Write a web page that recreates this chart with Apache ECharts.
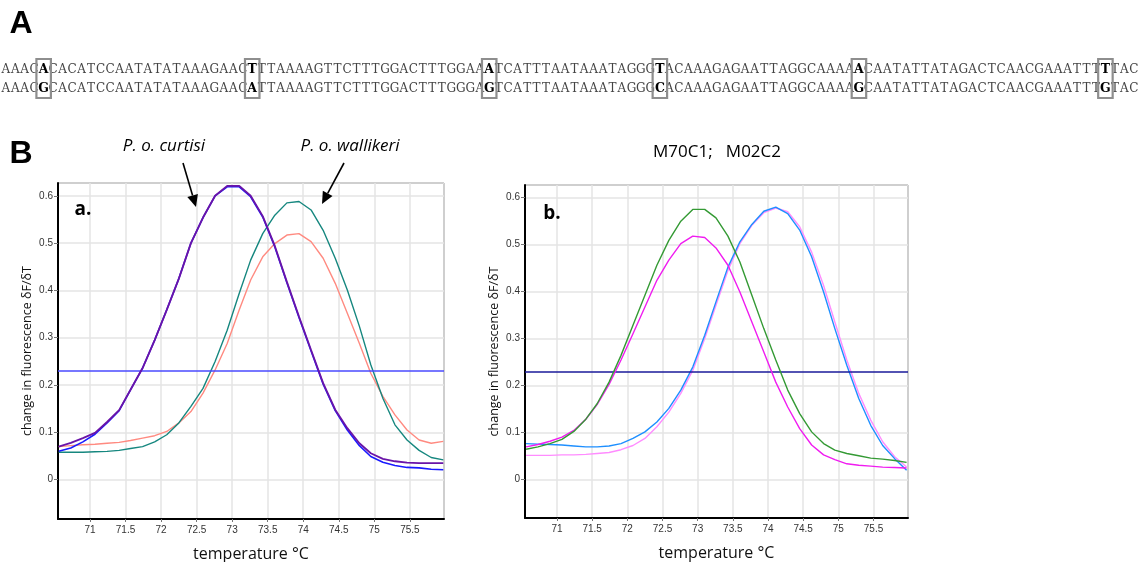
<!DOCTYPE html>
<html>
<head>
<meta charset="utf-8">
<script src="https://cdn.jsdelivr.net/npm/echarts@6/dist/echarts.min.js"></script>
<style>html,body{margin:0;padding:0;background:#fff}#c{width:1144px;height:562px}</style>
</head>
<body>
<div id="c"></div>
<script>
// ---- data ----
const temps = [70.56, 70.73, 70.90, 71.07, 71.24, 71.41, 71.57, 71.74, 71.91, 72.08, 72.25, 72.42, 72.59, 72.76, 72.93, 73.10, 73.26, 73.43, 73.60, 73.77, 73.94, 74.11, 74.28, 74.45, 74.62, 74.79, 74.95, 75.12, 75.29, 75.46, 75.63, 75.80, 75.97];

// panel a
const curtisiPurple = [0.070, 0.078, 0.088, 0.099, 0.122, 0.147, 0.190, 0.236, 0.295, 0.359, 0.425, 0.500, 0.554, 0.600, 0.621, 0.621, 0.600, 0.557, 0.494, 0.418, 0.345, 0.274, 0.204, 0.148, 0.109, 0.077, 0.056, 0.044, 0.039, 0.036, 0.035, 0.035, 0.035];
const curtisiBlue = [0.060, 0.067, 0.080, 0.096, 0.120, 0.146, 0.190, 0.236, 0.295, 0.359, 0.425, 0.500, 0.554, 0.600, 0.619, 0.619, 0.598, 0.555, 0.492, 0.416, 0.343, 0.272, 0.202, 0.146, 0.105, 0.072, 0.049, 0.037, 0.030, 0.026, 0.025, 0.022, 0.021];
const wallikeriTeal = [0.058, 0.058, 0.058, 0.059, 0.060, 0.062, 0.066, 0.070, 0.080, 0.095, 0.120, 0.155, 0.193, 0.250, 0.316, 0.394, 0.464, 0.520, 0.559, 0.585, 0.588, 0.570, 0.527, 0.468, 0.401, 0.324, 0.243, 0.172, 0.116, 0.084, 0.062, 0.047, 0.042];
const wallikeriSalmon = [0.070, 0.072, 0.074, 0.075, 0.077, 0.079, 0.083, 0.088, 0.093, 0.102, 0.120, 0.144, 0.183, 0.232, 0.288, 0.359, 0.422, 0.471, 0.499, 0.517, 0.520, 0.503, 0.468, 0.415, 0.352, 0.288, 0.225, 0.176, 0.137, 0.105, 0.084, 0.077, 0.081];
const thresholdA = 0.2345;

// panel b
const m70Green = [0.064, 0.069, 0.076, 0.085, 0.102, 0.128, 0.161, 0.207, 0.264, 0.328, 0.392, 0.456, 0.509, 0.550, 0.575, 0.575, 0.557, 0.518, 0.463, 0.392, 0.321, 0.254, 0.190, 0.140, 0.101, 0.076, 0.062, 0.055, 0.050, 0.045, 0.043, 0.040, 0.036];
const m70Magenta = [0.069, 0.074, 0.081, 0.090, 0.104, 0.128, 0.159, 0.202, 0.254, 0.310, 0.367, 0.424, 0.467, 0.502, 0.518, 0.515, 0.493, 0.456, 0.399, 0.335, 0.271, 0.207, 0.154, 0.108, 0.073, 0.052, 0.042, 0.033, 0.030, 0.028, 0.026, 0.025, 0.024];
const m02Blue = [0.076, 0.075, 0.074, 0.073, 0.071, 0.069, 0.069, 0.071, 0.076, 0.087, 0.101, 0.122, 0.151, 0.190, 0.239, 0.307, 0.378, 0.452, 0.506, 0.543, 0.571, 0.580, 0.566, 0.531, 0.474, 0.399, 0.321, 0.243, 0.172, 0.115, 0.072, 0.044, 0.019];
const m02Pink = [0.051, 0.051, 0.051, 0.052, 0.052, 0.053, 0.055, 0.057, 0.063, 0.072, 0.087, 0.112, 0.143, 0.183, 0.232, 0.300, 0.371, 0.445, 0.502, 0.541, 0.568, 0.578, 0.570, 0.538, 0.484, 0.413, 0.335, 0.254, 0.183, 0.126, 0.080, 0.048, 0.026];
const thresholdB = 0.2344;

// sequences
const seqTop = 'AAAC' + 'A' + 'CACATCCAATATATAAAGAAC' + 'T' + 'TTAAAAGTTCTTTGGACTTTGGAA' + 'A' + 'TCATTTAATAAATAGGG' + 'T' + 'ACAAAGAGAATTAGGCAAAA' + 'A' + 'CAATATTATAGACTCAACGAAATTT' + 'T' + 'TAC';
const seqBottom = 'AAAC' + 'G' + 'CACATCCAATATATAAAGAAC' + 'A' + 'TTAAAAGTTCTTTGGACTTTGGGA' + 'G' + 'TCATTTAATAAATAGGG' + 'C' + 'ACAAAGAGAATTAGGCAAAA' + 'G' + 'CAATATTATAGACTCAACGAAATTT' + 'G' + 'TAC';
const snpIndex = [4, 26, 51, 69, 90, 116];

// ---- chart ----
const chart = echarts.init(document.getElementById('c'), null, {renderer: 'canvas'});

const tickFont = {fontFamily: 'Liberation Sans', fontSize: 10, color: '#333'};

function xAxis(gi, min, max) {
  return {
    type: 'value', gridIndex: gi, min: min, max: max, splitNumber: 10,
    axisLine: {show: true, onZero: false, lineStyle: {color: '#000', width: 2}},
    axisTick: {show: true, length: 3, lineStyle: {color: '#777'}},
    axisLabel: Object.assign({margin: 6, showMinLabel: false, showMaxLabel: false}, tickFont),
    splitLine: {show: true, lineStyle: {color: '#e4e4e4', width: 1.5}},
    name: 'temperature °C', nameLocation: 'middle', nameGap: 27,
    nameTextStyle: {fontFamily: 'Open Sans', fontSize: 16, color: '#111'}
  };
}
function yAxis(gi, min, max) {
  return {
    type: 'value', gridIndex: gi, min: min, max: max, splitNumber: 7,
    axisLine: {show: true, onZero: false, lineStyle: {color: '#000', width: 2}},
    axisTick: {show: true, length: 4, lineStyle: {color: '#777'}},
    axisLabel: Object.assign({margin: 5, showMinLabel: false, showMaxLabel: false}, tickFont),
    splitLine: {show: true, lineStyle: {color: '#e4e4e4', width: 1.5}},
    name: 'change in fluorescence δF/δT', nameLocation: 'middle', nameGap: 24,
    nameTextStyle: {fontFamily: 'Open Sans', fontSize: 12.5, color: '#111'}
  };
}
function line(values, color, gi, width, z, extra) {
  return Object.assign({
    type: 'line', xAxisIndex: gi, yAxisIndex: gi,
    data: temps.map((t, i) => [t, values[i]]),
    symbol: 'none', showSymbol: false, smooth: false,
    lineStyle: {color: color, width: width}, itemStyle: {color: color},
    z: z, animation: false, silent: true
  }, extra || {});
}
function threshold(v, color) {
  return {markLine: {silent: true, symbol: 'none', animation: false,
    label: {show: false}, lineStyle: {color: color, type: 'solid', width: 1.5},
    data: [{yAxis: v}]}};
}

// ---- annotations ----
const g = [];
const txt = (text, x, y, size, opts) => g.push({
  type: 'text', x: x, y: y, z: 100,
  style: Object.assign({text: text, fontSize: size, fontFamily: 'Open Sans', fill: '#000',
    align: 'center', textAlign: 'center', verticalAlign: 'middle', textVerticalAlign: 'middle'}, opts || {})
});
txt('A', 21, 24, 32, {fontFamily: 'Liberation Sans', fontWeight: 'bold'});
txt('B', 21, 154, 32, {fontFamily: 'Liberation Sans', fontWeight: 'bold'});
txt('P. o. curtisi', 164, 146, 17, {fontStyle: 'italic'});
txt('P. o. wallikeri', 350, 146, 17, {fontStyle: 'italic'});
txt('M70C1;   M02C2', 717, 152, 17);
txt('a.', 83, 210, 19, {fontWeight: 'bold'});
txt('b.', 552, 214, 19, {fontWeight: 'bold'});

function arrow(x1, y1, x2, y2) {
  const dx = x2 - x1, dy = y2 - y1, L = Math.hypot(dx, dy);
  const ux = dx / L, uy = dy / L, hl = 12, hw = 5.5;
  const bx = x2 - ux * hl, by = y2 - uy * hl;
  g.push({type: 'line', z: 100, shape: {x1: x1, y1: y1, x2: bx, y2: by}, style: {stroke: '#000', lineWidth: 1.6}});
  g.push({type: 'polygon', z: 100, shape: {points: [[x2, y2], [bx - uy * hw, by + ux * hw], [bx + uy * hw, by - ux * hw]]}, style: {fill: '#000'}});
}
arrow(183, 163, 196, 207);
arrow(344, 163, 322, 204);

// sequences: one glyph per column so the serif font keeps a fixed pitch
const adv = 9.48, x0 = 1;
function seqRow(seq, y) {
  seq.split('').forEach((c, i) => {
    const snp = snpIndex.indexOf(i) >= 0;
    g.push({type: 'text', x: x0 + (i + 0.5) * adv, y: y, z: 50, silent: true, style: {text: c,
      fontFamily: 'DejaVu Serif', fontWeight: snp ? 'bold' : 'normal', fontSize: snp ? 12.5 : 12,
      fill: snp ? '#000' : '#444', align: 'center', textAlign: 'center',
      verticalAlign: 'middle', textVerticalAlign: 'middle'}});
  });
}
seqRow(seqTop, 70);
seqRow(seqBottom, 89);
snpIndex.forEach(i => {
  g.push({type: 'rect', z: 60, shape: {x: x0 + i * adv - 2.5, y: 59, width: adv + 5, height: 39},
    style: {fill: 'none', stroke: '#8e8e8e', lineWidth: 2.2}});
});

const gridBase = {show: true, borderColor: '#222', borderWidth: 1, backgroundColor: '#fff', outerBoundsMode: 'none', containLabel: false};
const option = {
  backgroundColor: '#fff',
  animation: false,
  grid: [
    Object.assign({left: 58, top: 183, width: 386, height: 336}, gridBase),
    Object.assign({left: 525, top: 185, width: 383, height: 333}, gridBase)
  ],
  xAxis: [xAxis(0, 70.55, 75.98), xAxis(1, 70.545, 75.99)],
  yAxis: [yAxis(0, -0.083, 0.627), yAxis(1, -0.0825, 0.627)],
  series: [
    line(wallikeriSalmon, '#ff8a80', 0, 1.4, 3, threshold(thresholdA, '#4a4aff')),
    line(wallikeriTeal, '#16877f', 0, 1.4, 4),
    line(curtisiBlue, '#1a1aff', 0, 1.6, 5),
    line(curtisiPurple, '#6a14a8', 0, 1.8, 6),
    line(m02Pink, '#ff8cff', 1, 1.4, 3, threshold(thresholdB, '#1a1a9a')),
    line(m02Blue, '#1e8fff', 1, 1.4, 4),
    line(m70Magenta, '#f01cf0', 1, 1.4, 5),
    line(m70Green, '#349a34', 1, 1.4, 6)
  ],
  graphic: g
};
chart.setOption(option);
</script>
</body>
</html>
